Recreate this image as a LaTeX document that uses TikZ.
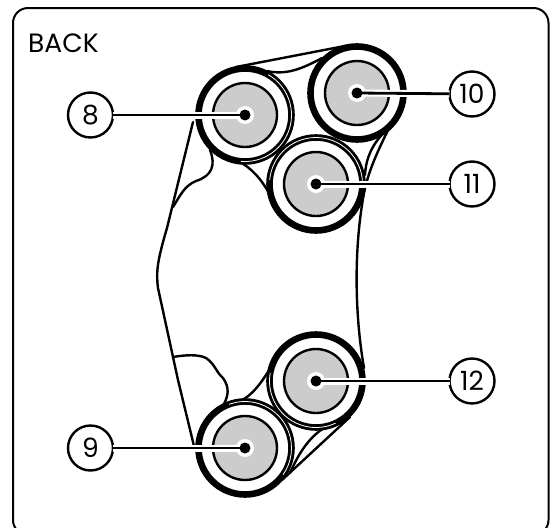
\documentclass[tikz,border=0pt]{standalone}
\usepackage{fontspec}
\setmainfont{Poppins}
\begin{document}
\begin{tikzpicture}[x=1pt,y=-1pt,
  body/.style={draw=black,line width=2.4pt,line join=round,line cap=round},
  ring/.style={circle,draw=black,line width=6.6pt,fill=white,minimum size=93pt,inner sep=0pt,outer sep=0pt},
  core/.style={circle,draw=black,line width=2.4pt,fill=coregrey,minimum size=64pt,inner sep=0pt,outer sep=0pt},
  halo/.style={circle,fill=white,minimum size=18pt,inner sep=0pt,outer sep=0pt},
  hub/.style={circle,fill=black,minimum size=11pt,inner sep=0pt,outer sep=0pt},
  lab/.style={circle,draw=black,line width=2.4pt,fill=white,minimum size=45pt,inner sep=0pt,outer sep=0pt,font=\fontsize{26.5}{30}\selectfont},
  casing/.style={draw=white,line width=7pt},
  leader/.style={draw=black,line width=2.8pt},
  gap/.style={draw=white,line width=0.8pt}]
\definecolor{coregrey}{HTML}{CCCCCC}
\useasboundingbox (0,0) rectangle (555,528);
\begin{scope}
\clip (0,0) rectangle (555,528);
\draw[line width=2pt,rounded corners=15pt] (13,8) rectangle (548.5,535);
\end{scope}
\node[anchor=base west,font=\fontsize{26.5}{30}\selectfont,inner sep=0pt] (back) at (28,52) {BACK};
% body outline
\draw[body] (236,67) -- (350,45);
\draw[body] (193,122) -- (167,228) .. controls (157,262) and (156,272) .. (158,288) -- (178,380) -- (194,446);
\draw[body] (282,480) -- (350,417);
\draw[body] (389,128) .. controls (376,155) and (366,175) .. (362,205) .. controls (355,250) and (354,310) .. (364,368);
% fillets
\draw[body] (267,71) .. controls (285,75) and (300,70) .. (322,58);
\draw[body] (238,161) .. controls (252,168) and (262,180) .. (270,195);
\draw[body] (389,128) .. controls (375,140) and (366,155) .. (365,175);
\draw[body] (210,150) .. controls (216,165) and (212,176) .. (196,181) .. controls (184,186) and (180,196) .. (173,207);
\draw[body] (173,357) .. controls (185,355) and (198,354) .. (206,358) .. controls (215,364) and (216,372) .. (223,378) .. controls (230,388) and (228,396) .. (224,404);
\draw[body] (240,401) .. controls (252,396) and (262,382) .. (271,367);
\draw[body] (290,473) .. controls (298,455) and (308,438) .. (324,428);
% rings
\node[ring] (r8) at (245,115) {};
\node[ring] (r10) at (357,93) {};
\node[ring] (r11) at (316,184) {};
\node[ring] (r12) at (316,381) {};
\node[ring] (r9) at (245,448) {};
% double-line parts of the rings (angles are mirrored by y=-1pt)
\draw[gap] (r8.center) ++(-60:46.5) arc[start angle=-60,end angle=95,radius=46.5];
\draw[gap] (r11.center) ++(5:46.5) arc[start angle=5,end angle=-175,radius=46.5];
\draw[gap] (r12.center) ++(65:46.5) arc[start angle=65,end angle=190,radius=46.5];
\draw[gap] (r9.center) ++(-110:46.5) arc[start angle=-110,end angle=35,radius=46.5];
% cores
\node[core] (c8) at (245,115) {};
\node[core] (c10) at (357,93) {};
\node[core] (c11) at (316,184) {};
\node[core] (c12) at (316,381) {};
\node[core] (c9) at (245,448) {};
\node[halo] (h8) at (245,115) {};
\node[halo] (h10) at (357,93) {};
\node[halo] (h11) at (316,184) {};
\node[halo] (h12) at (316,381) {};
\node[halo] (h9) at (245,448) {};
% labels
\node[lab] (l8) at (90.5,115) {8};
\node[lab] (l9) at (90.5,448) {9};
\node[lab] (l10) at (472,94) {10};
\node[lab] (l11) at (472,184) {11};
\node[lab] (l12) at (472,381) {12};
% leaders
\foreach \a/\b in {h8/l8,h9/l9,h10/l10,h11/l11,h12/l12}{
  \draw[casing] (\a.center) -- (\b);
  \draw[leader] (\a.center) -- (\b);
}
\node[hub] (d8) at (245,115) {};
\node[hub] (d10) at (357,93) {};
\node[hub] (d11) at (316,184) {};
\node[hub] (d12) at (316,381) {};
\node[hub] (d9) at (245,448) {};
\end{tikzpicture}
\end{document}
